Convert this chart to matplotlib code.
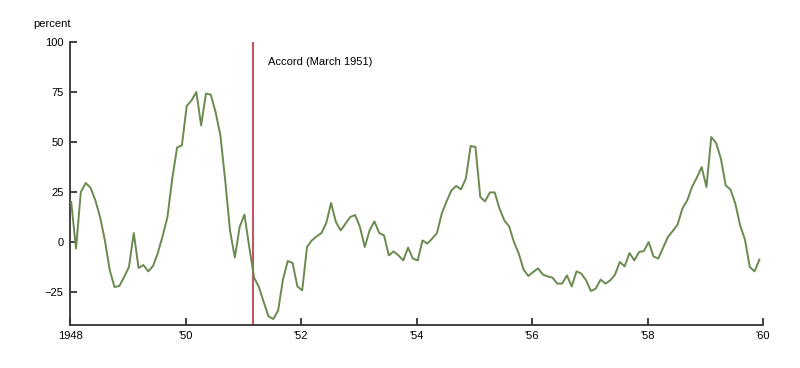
import matplotlib
matplotlib.use("Agg")
import matplotlib.pyplot as plt
import numpy as np

plt.rcParams['font.family'] = ['Liberation Sans', 'DejaVu Sans']

start_year = 1948
values = [
    20, -3.3, 25, 29.5, 27.2, 21, 12.5, 0.8, -14, -22.5, -22, -17.5,
    -12.5, 4.5, -13, -11.5, -14.7, -12, -5.5, 3, 12.5, 31.7, 47.2, 48.3,
    68, 70.8, 75, 58.3, 74.2, 73.7, 65, 53.3, 30.8, 5.8, -7.8, 7.5,
    13.7, -2.5, -17.8, -22.5, -30, -37.2, -38.5, -34.2, -18.8, -9.5, -10.5, -22.2,
    -24.2, -2.5, 0.8, 2.8, 4.5, 9.5, 19.5, 10, 5.8, 9.2, 12.5, 13.5,
    7.5, -2.5, 5.8, 10.3, 4.5, 3.3, -6.7, -4.7, -6.7, -9.2, -2.8, -8.3,
    -9.2, 0.8, -0.8, 1.7, 4.5, 14.2, 20.3, 25.8, 28, 26.3, 31.7, 48,
    47.5, 22.5, 20.3, 24.8, 24.8, 16.7, 10.8, 7.8, 0, -5.8, -13.8, -17,
    -15, -13.2, -16.3, -17.2, -17.8, -20.8, -20.8, -16.7, -22.2, -14.7, -15.8, -19.2,
    -24.5, -23.3, -18.8, -20.8, -19.2, -16.3, -10, -12.2, -5.5, -9.2, -5, -4.5,
    0, -7.2, -8.3, -2.8, 2.5, 5.5, 8.7, 16.7, 20.8, 27.5, 32.2, 37.5,
    27.5, 52.5, 49.5, 41.7, 28.3, 26.2, 19.2, 8.3, 1.2, -12.5, -14.7, -8.8,
]
accord_date = 1951 + 2 / 12
accord_label = "Accord (March 1951)"
y_ticks = [-25, 0, 25, 50, 75, 100]
y_tick_labels = ["\u221225", "0", "25", "50", "75", "100"]
x_ticks = [1948, 1950, 1952, 1954, 1956, 1958, 1960]
x_tick_labels = ["1948", "'50", "'52", "'54", "'56", "'58", "'60"]

dates = start_year + (np.arange(len(values)) + 0.25) / 12

fig = plt.figure(figsize=(8, 3.68), dpi=100)
ax = fig.add_axes([70 / 800, 1 - 325 / 368, (763 - 70) / 800, (325 - 42) / 368])

ax.plot(dates, values, color='#6a8a4f', lw=1.4, zorder=3)
ax.axvline(accord_date, color='#c4505a', lw=1.4, zorder=2)
ax.text(1951.43, 90, accord_label, fontsize=8, ha='left', va='center', color='black')

ax.set_xlim(1948, 1960)
ax.set_ylim(-41.5, 100)
ax.set_yticks(y_ticks)
ax.set_yticklabels(y_tick_labels)
ax.set_xticks(x_ticks)
ax.set_xticklabels(x_tick_labels)

for s in ['top', 'right']:
    ax.spines[s].set_visible(False)
for s in ['left', 'bottom']:
    ax.spines[s].set_color('#333333')
    ax.spines[s].set_linewidth(1.3)
ax.tick_params(axis='both', direction='in', length=5, width=1.3, color='#333333',
               labelsize=8, labelcolor='black')
ax.tick_params(axis='y', pad=4.5)
ax.tick_params(axis='x', pad=4.5)

fig.text(33 / 800, 1 - 24 / 368, "percent", fontsize=8, ha='left', va='center')

fig.savefig("out.png", dpi=100)
